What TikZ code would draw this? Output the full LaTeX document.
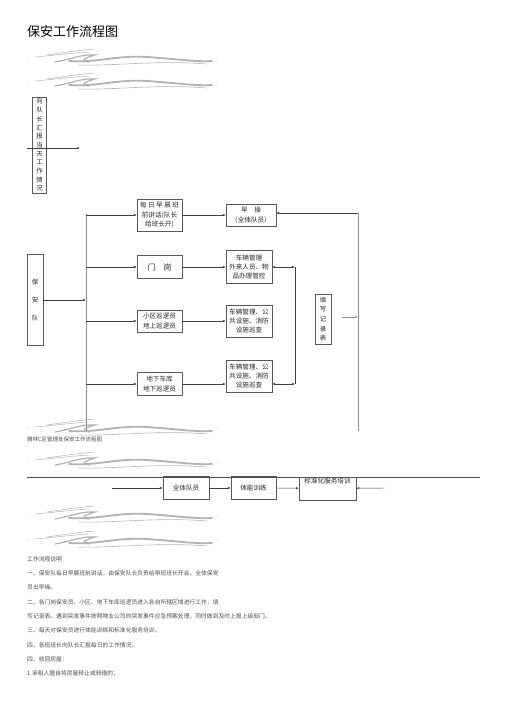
\documentclass[tikz,border=0pt]{standalone}
\usepackage{fontspec}
\setmainfont{Noto Sans CJK SC}
\usetikzlibrary{arrows.meta}
\usetikzlibrary{positioning}

\begin{document}
\begin{tikzpicture}[x=1pt,y=-1pt]
\tikzstyle{box}=[rectangle,align=center,draw=black!65,line width=0.4pt,inner sep=0pt,text=black!85,font=\fontsize{6.6}{9.4}\selectfont]
\tikzstyle{vbox}=[box,font=\fontsize{6.4}{8.7}\selectfont]
\tikzstyle{link}=[draw=black!75,line width=0.45pt,-{Latex[length=3pt,width=2.4pt]}]
\tikzstyle{both}=[link,{Latex[length=3pt,width=2.4pt]}-{Latex[length=3pt,width=2.4pt]}]
\tikzstyle{rail}=[draw=black!45,line width=1pt]
\tikzstyle{swoosh}=[draw=black!30,line cap=round]
\tikzstyle{note}=[anchor=west,inner sep=0pt,text=black!70,font=\fontsize{5.8}{7}\selectfont]
\useasboundingbox (0,0) rectangle (504,713);

% title
\node[anchor=west,inner sep=0pt,font=\fontsize{13}{15}\selectfont] (title) at (27,32) {保安工作流程图};

% decorative strokes
\foreach \sy in {58,82,428,461,515,540}{
  \begin{scope}[shift={(27,\sy)}]
    \fill[black!40] (0,0) circle (0.5) (190,0) circle (0.5);
    \draw[swoosh,line width=0.5pt] (8,-1) .. controls (30,-3) and (45,-5) .. (62,-6);
    \draw[swoosh,line width=0.5pt] (20,-3) .. controls (40,-6) and (55,-8) .. (68,-9);
    \draw[swoosh,line width=1.2pt] (28,4) .. controls (45,1) and (55,-4) .. (68,-3) .. controls (58,0) and (52,3) .. (62,4);
    \draw[swoosh,line width=1.8pt] (42,3) .. controls (70,5) and (90,-3) .. (120,-1) .. controls (150,1) and (168,4) .. (185,3);
    \draw[swoosh,line width=0.6pt] (52,7) .. controls (90,8) and (130,2) .. (180,6);
  \end{scope}
}

% report to the captain
\node[vbox,minimum width=14,minimum height=96] (report) at (39.5,145)
  {向\\队\\长\\汇\\报\\当\\天\\工\\作\\情\\况};
\coordinate (repin) at (27,148);
\coordinate (repout) at (80,148);
\draw[link] (repin) -- (repout);

% guard team and rails
\node[vbox,minimum width=16,minimum height=91,font=\fontsize{6.4}{18}\selectfont] (guard) at (35,300) {保\\安\\队};
\coordinate (railtop) at (86,214);
\coordinate (railbot) at (86,431);
\draw[rail] (railtop) -- (railbot);

\node[box,minimum width=45,minimum height=32] (morning) at (159.5,215) {每 日 早 晨 班\\前讲话(队长\\给班长开)};
\node[box,minimum width=45,minimum height=23,font=\fontsize{8}{9}\selectfont] (gate) at (159.5,267) {门\quad 岗};
\node[box,minimum width=45,minimum height=22] (patrol) at (159.5,321) {小区巡逻员\\地上巡逻员};
\node[box,minimum width=45,minimum height=23] (garage) at (159.5,384) {地下车库\\地下巡逻员};

\node[box,minimum width=50,minimum height=22] (drill) at (251,215) {早\quad 操\\（全体队员）};
\node[box,minimum width=46,minimum height=33] (gatejob) at (249,267) {车辆管理\\外来人员、物\\品办理管控};
\node[box,minimum width=46,minimum height=32] (patroljob) at (249,321) {车辆管理、公\\共设施、消防\\设施巡查};
\node[box,minimum width=46,minimum height=32] (garagejob) at (249,376) {车辆管理、公\\共设施、消防\\设施巡查};

\draw[link] (guard.east) -- (guard.east -| railtop);
\draw[link] (morning.west -| railtop) -- (morning.west);
\draw[link] (gate.west -| railtop) -- (gate.west);
\draw[link] (patrol.west -| railtop) -- (patrol.west);
\draw[link] (garage.west -| railtop) -- (garage.west);

\draw[link] (morning.east) -- (morning.east -| drill.west);
\draw[link] (gate.east) -- (gate.east -| gatejob.west);
\draw[link] (patrol.east) -- (patrol.east -| patroljob.west);
\draw[link] (garage.east) -- (garage.east -| garagejob.west);

% record keeping
\coordinate (logtop) at (295,267);
\coordinate (logbot) at (295,384);
\draw[both] (gatejob.east) -- (logtop);
\draw[draw=black!75,line width=0.45pt] (logtop) -- (logbot);
\draw[both] (garage.east -| garagejob.east) -- (logbot);

\node[vbox,minimum width=16,minimum height=50,font=\fontsize{6.4}{9.7}\selectfont] (records) at (323,319) {填\\写\\记\\录\\表};
\coordinate (outtop) at (358,213);
\coordinate (outbot) at (358,431);
\draw[rail] (outtop) -- (outbot);
\draw[link] (outtop) -- (outtop -| drill.east);
\coordinate (recout) at (342,317);
\draw[link,draw=black!45,line width=0.9pt] (recout) -- (recout -| outtop);

\node[note,font=\fontsize{5.5}{6}\selectfont] (caption) at (27,439) {雅林C区管理处保安工作流程图};

% training row
\coordinate (lineleft) at (27,477);
\coordinate (lineright) at (480,477);
\draw[draw=black!70,line width=0.5pt] (lineleft) -- (lineright);
\node[box,minimum width=46,minimum height=23] (team) at (186,488) {全体队员};
\node[box,minimum width=45,minimum height=23] (fitness) at (253.5,488) {体能训练};
\node[box,minimum width=57,minimum height=23,anchor=north] (service) at (327.5,476.5) {\\[-6pt]};
\node[inner sep=0pt,font=\fontsize{6.6}{8}\selectfont,text=black!85] (servicetext) at (327.5,481) {标准化服务培训};
\coordinate (teamin) at (112,488);
\coordinate (servicein) at (385,488);
\draw[link] (teamin) -- (team.west);
\draw[link] (team.east) -- (fitness.west);
\draw[link] (fitness.east) -- (service.west);
\draw[link] (servicein) -- (service.east);

% notes
\node[note] (n1) at (27,559) {工作流程说明};
\node[note] (n2) at (27,573) {一、保安队每日早晨班前讲话，由保安队长负责给带班班长开会，全体保安};
\node[note] (n3) at (27,587) {员出早操。};
\node[note] (n4) at (27,602) {二、各门岗保安员、小区、地下车库巡逻员进入各自所辖区域进行工作，填};
\node[note] (n5) at (27,616) {写记录表。遇到突发事件按照物业公司的突发事件应急预案处理，同时做到及时上报上级部门。};
\node[note] (n6) at (27,630) {三、每天对保安员进行体能训练和标准化服务培训。};
\node[note] (n7) at (27,645) {四、各班班长向队长汇报每日的工作情况。};
\node[note] (n8) at (27,659) {四、收回房屋：};
\node[note] (n9) at (27,674) {1.承租人擅自将房屋转让或转借的；};
\end{tikzpicture}
\end{document}
